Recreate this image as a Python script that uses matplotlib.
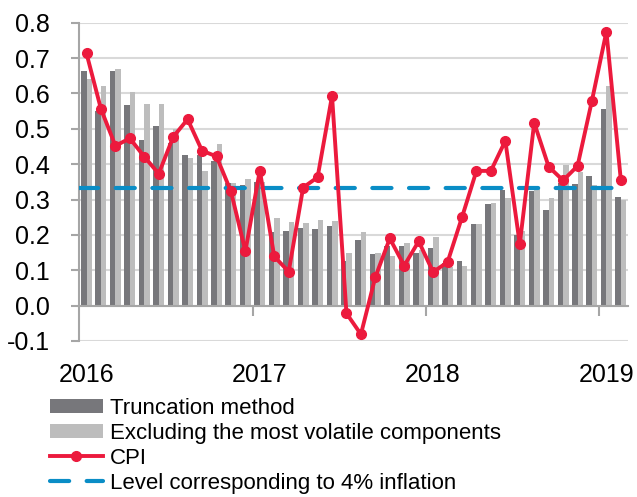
import numpy as np
import matplotlib
matplotlib.use("Agg")
import matplotlib.pyplot as plt

plt.rcParams['font.family'] = ['Liberation Sans', 'DejaVu Sans']

# monthly, Jan 2016 - Feb 2019
cpi = [0.713, 0.556, 0.452, 0.473, 0.421, 0.373, 0.477, 0.527, 0.438, 0.422, 0.323, 0.154,
       0.382, 0.139, 0.096, 0.334, 0.363, 0.593, -0.022, -0.081, 0.081, 0.190, 0.113, 0.182,
       0.095, 0.123, 0.250, 0.381, 0.381, 0.466, 0.174, 0.517, 0.393, 0.354, 0.395, 0.580,
       0.775, 0.354]
truncation = [0.664, 0.55, 0.664, 0.568, 0.468, 0.509, 0.46, 0.426, 0.426, 0.41, 0.346, 0.341,
              0.349, 0.209, 0.212, 0.219, 0.218, 0.224, 0.127, 0.185, 0.145, 0.17, 0.169, 0.150,
              0.163, 0.12, 0.126, 0.231, 0.287, 0.327, 0.20, 0.325, 0.269, 0.346, 0.344, 0.366,
              0.556, 0.306]
excl_volatile = [0.64, 0.620, 0.670, 0.604, 0.571, 0.571, 0.499, 0.418, 0.381, 0.458, 0.346, 0.358,
                 0.35, 0.249, 0.237, 0.234, 0.243, 0.240, 0.149, 0.208, 0.148, 0.139, 0.176, 0.156,
                 0.195, 0.11, 0.112, 0.231, 0.289, 0.304, 0.21, 0.33, 0.304, 0.399, 0.379, 0.342,
                 0.621, 0.299]
target_level = 1 / 3
year_labels = ['2016', '2017', '2018', '2019']

n = len(cpi)
x = np.arange(n)
w = 0.38

fig = plt.figure(figsize=(6.37, 4.97), dpi=100)
ax = fig.add_axes([0.1245, 0.3139, 0.8615, 0.6404])

for yv in np.arange(-0.1, 0.81, 0.1):
    ax.axhline(yv, color='#d9d9d9', lw=1.5, zorder=0)

b1 = ax.bar(x - w / 2, truncation, w, color='#77777b', zorder=2)
b2 = ax.bar(x + w / 2, excl_volatile, w, color='#bdbdbd', zorder=2)
dash, = ax.plot([-0.5, n - 0.5], [target_level, target_level], color='#0a8dc6', lw=3,
                dashes=(4.6, 4.2), dash_capstyle='round', zorder=3)
line, = ax.plot(x, cpi, color='#ec1a3d', lw=2.8, marker='o', ms=7, zorder=4)

ax.set_xlim(-0.5, n - 0.5)
ax.set_ylim(-0.1, 0.8)
ax.set_yticks(np.arange(-0.1, 0.81, 0.1))
ax.set_yticklabels(['%.1f' % v for v in np.arange(-0.1, 0.81, 0.1)])

ax.spines['top'].set_visible(False)
ax.spines['right'].set_visible(False)
ax.spines['left'].set_color('#a6a6a6')
ax.spines['left'].set_linewidth(1.5)
ax.spines['bottom'].set_position(('data', 0))
ax.spines['bottom'].set_color('#a6a6a6')
ax.spines['bottom'].set_linewidth(1.5)

ax.set_xticks(np.arange(0, n, 12))
ax.set_xticklabels(year_labels)
ax.set_xticks(np.arange(11.5, n, 12), minor=True)
ax.tick_params(axis='x', which='major', length=0, pad=41, labelsize=18)
ax.tick_params(axis='x', which='minor', length=7, width=1.5, color='#a6a6a6', direction='out')
ax.tick_params(axis='y', length=6, width=1.5, color='#a6a6a6', direction='out', pad=15,
               labelsize=18)

leg = fig.legend([b1, b2, line, dash],
                 ['Truncation method', 'Excluding the most volatile components', 'CPI',
                  'Level corresponding to 4% inflation'],
                 loc='upper left', bbox_to_anchor=(0.078, 0.2), frameon=False,
                 fontsize=16, handlelength=2.4, handleheight=0.6, handletextpad=0.3,
                 labelspacing=0.18, borderpad=0, borderaxespad=0)

fig.savefig('out.png', dpi=100)
